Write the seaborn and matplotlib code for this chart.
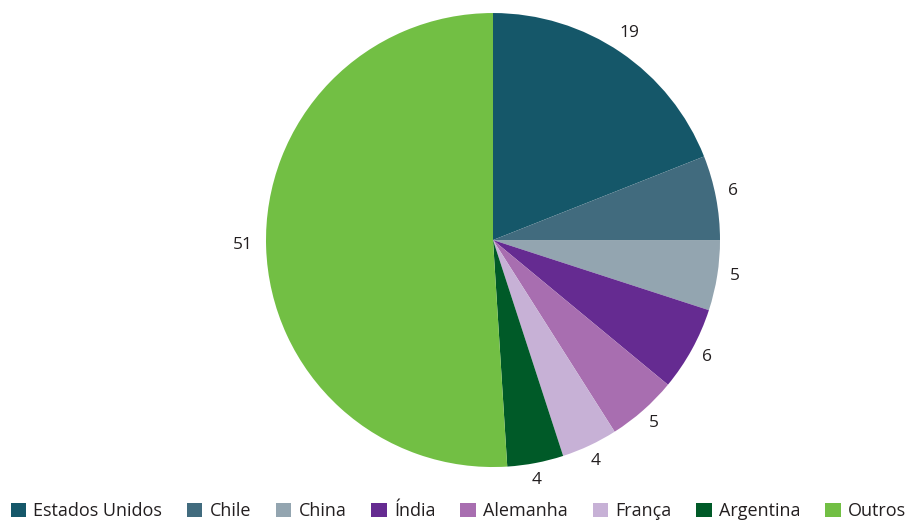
import matplotlib
matplotlib.use("Agg")
import matplotlib.pyplot as plt
import seaborn as sns
from matplotlib.patches import Patch

categories = ["Estados Unidos", "Chile", "China", "Índia", "Alemanha", "França", "Argentina", "Outros"]
values = [19, 6, 5, 6, 5, 4, 4, 51]
colors = ["#155769", "#416b7e", "#93a5b0", "#652b91", "#a86eb0", "#c7b1d6", "#005a28", "#72bf44"]

sns.set_style("white")
plt.rcParams["font.family"] = ["Open Sans", "DejaVu Sans"]

fig = plt.figure(figsize=(9.15, 5.21), dpi=100)
ax = fig.add_axes([0.2907, 0.1036, 0.4962, 0.8714])
wedges, texts = ax.pie(values, colors=colors, startangle=90, counterclock=False, radius=1,
                       labels=[str(v) for v in values], labeldistance=1.09,
                       textprops=dict(fontsize=12.5, color="#231f20"),
                       wedgeprops=dict(linewidth=0))
for t in texts:
    t.set_horizontalalignment("center")
    t.set_verticalalignment("center")
    x, y = t.get_position()
    t.set_position((x - 0.012, y + 0.012))
ax.set_xlim(-1, 1)
ax.set_ylim(-1, 1)
ax.set_aspect("equal")
ax.axis("off")

handles = [Patch(facecolor=c, edgecolor="none") for c in colors]
fig.legend(handles, categories, loc="lower left", bbox_to_anchor=(-0.006, -0.03), ncol=8,
           frameon=False, fontsize=13, handlelength=0.85, handleheight=0.85,
           handletextpad=0.4, columnspacing=1.38, labelcolor="#231f20")

fig.savefig("out.png", dpi=100)
